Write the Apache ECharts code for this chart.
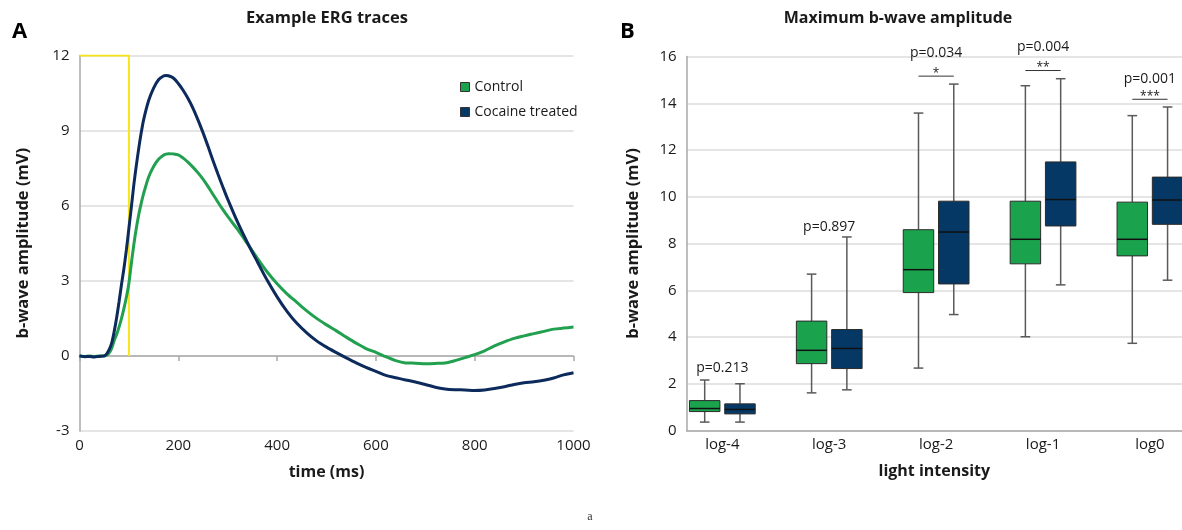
<!DOCTYPE html>
<html>
<head>
<meta charset="utf-8">
<script src="https://cdn.jsdelivr.net/npm/echarts@6/dist/echarts.min.js"></script>
<style>
html,body{margin:0;padding:0;background:#fff;}
#chart{width:1182px;height:530px;}
</style>
</head>
<body>
<div id="chart"></div>
<script>
// ---------- Panel A data ----------
const timeMs = [0,10,20,30,40,50,55,60,65,70,75,80,85,90,95,100,105,110,115,120,125,130,140,150,160,170,175,180,190,200,210,220,230,240,250,260,270,280,290,300,320,340,360,380,400,420,440,460,480,500,520,540,560,580,600,620,640,660,680,700,720,740,760,780,800,820,840,860,880,900,920,940,960,980,1000];
const controlTrace = [0,-0.02,0,-0.03,0,0,0.03,0.12,0.3,0.6,0.85,1.15,1.5,1.9,2.35,2.9,3.7,4.45,5.1,5.65,6.1,6.5,7.15,7.57,7.86,8.02,8.06,8.08,8.07,8.03,7.9,7.73,7.53,7.31,7.06,6.77,6.46,6.15,5.85,5.57,5.05,4.48,3.9,3.35,2.88,2.48,2.14,1.8,1.5,1.24,1.0,0.75,0.51,0.29,0.14,-0.03,-0.19,-0.28,-0.29,-0.31,-0.3,-0.28,-0.19,-0.07,0.05,0.2,0.4,0.56,0.7,0.8,0.89,0.98,1.07,1.11,1.15];
const cocaineTrace = [0,-0.03,-0.02,-0.04,-0.02,0,0.08,0.25,0.5,0.95,1.5,2.15,2.85,3.5,4.25,5.1,5.95,6.84,7.6,8.3,8.92,9.45,10.2,10.7,11.03,11.18,11.2,11.19,11.1,10.88,10.6,10.27,9.88,9.42,8.92,8.38,7.82,7.28,6.76,6.26,5.34,4.52,3.76,3.02,2.36,1.78,1.3,0.92,0.6,0.35,0.13,-0.08,-0.28,-0.46,-0.62,-0.78,-0.87,-0.96,-1.04,-1.14,-1.25,-1.32,-1.35,-1.36,-1.38,-1.36,-1.3,-1.23,-1.14,-1.07,-1.03,-0.97,-0.88,-0.76,-0.67];
const stimulusX = [0, 100, 100];
const stimulusY = [12, 12, 0];

// ---------- Panel B data ----------
const intensities = ['log-4','log-3','log-2','log-1','log0'];
// [min, Q1, median, Q3, max]
const controlBox = [
  [0.36, 0.81, 0.94, 1.28, 2.16],
  [1.61, 2.86, 3.43, 4.68, 6.69],
  [2.67, 5.90, 6.88, 8.59, 13.58],
  [4.01, 7.13, 8.18, 9.81, 14.75],
  [3.73, 7.47, 8.18, 9.77, 13.47]
];
const cocaineBox = [
  [0.36, 0.71, 0.90, 1.14, 2.00],
  [1.74, 2.65, 3.51, 4.32, 8.28],
  [4.96, 6.27, 8.49, 9.81, 14.82],
  [6.23, 8.75, 9.88, 11.49, 15.05],
  [6.43, 8.82, 9.86, 10.84, 13.84]
];
const pValues = ['p=0.213','p=0.897','p=0.034','p=0.004','p=0.001'];
const pLabelY = [2.66, 8.72, 16.15, 16.4, 15.05];
const sigStars = ['', '', '*', '**', '***'];
const bracketY = [null, null, 15.16, 15.4, 14.17];

// ---------- styling ----------
const FONT = '"Open Sans", "Noto Sans", sans-serif';
const GREEN_LINE = '#21a04f';
const NAVY_LINE = '#0c2b5c';
const GREEN_BOX = '#1ba24d';
const NAVY_BOX = '#053865';
const AXIS_GRAY = '#a9a9a9';
const GRID_GRAY = '#dddddd';
const TEXT = '#1a1a1a';

const BOX_OFF = 0.165, BOX_W = 0.285, CAP_W = 0.09;

function boxRenderer(offset, fill) {
  return function (params, api) {
    const x = api.value(0) + offset;
    const pMin = api.coord([x, api.value(1)]);
    const pQ1 = api.coord([x, api.value(2)]);
    const pMed = api.coord([x, api.value(3)]);
    const pQ3 = api.coord([x, api.value(4)]);
    const pMax = api.coord([x, api.value(5)]);
    const w = api.size([BOX_W, 0])[0];
    const cw = api.size([CAP_W, 0])[0];
    const cx = pMed[0];
    const wStyle = {stroke: '#5a5a5a', lineWidth: 1.5};
    return {
      type: 'group',
      children: [
        {type: 'line', shape: {x1: cx, y1: pMax[1], x2: cx, y2: pQ3[1]}, style: wStyle},
        {type: 'line', shape: {x1: cx, y1: pQ1[1], x2: cx, y2: pMin[1]}, style: wStyle},
        {type: 'line', shape: {x1: cx - cw / 2, y1: pMax[1], x2: cx + cw / 2, y2: pMax[1]}, style: wStyle},
        {type: 'line', shape: {x1: cx - cw / 2, y1: pMin[1], x2: cx + cw / 2, y2: pMin[1]}, style: wStyle},
        {type: 'rect', shape: {x: cx - w / 2, y: pQ3[1], width: w, height: pQ1[1] - pQ3[1]},
          style: {fill: fill, stroke: '#2b2b2b', lineWidth: 1}},
        {type: 'line', shape: {x1: cx - w / 2, y1: pMed[1], x2: cx + w / 2, y2: pMed[1]},
          style: {stroke: '#111', lineWidth: 1.5}}
      ]
    };
  };
}

const chart = echarts.init(document.getElementById('chart'), null, {renderer: 'canvas'});

const option = {
  animation: false,
  backgroundColor: '#ffffff',
  textStyle: {fontFamily: FONT},
  grid: [
    {left: 79.5, right: 608.5, top: 55.5, bottom: 99},
    {left: 686.7, right: 0, top: 56.5, bottom: 99.5}
  ],
  legend: {
    data: ['Control', 'Cocaine treated'],
    orient: 'vertical',
    left: 455, top: 74,
    icon: 'rect',
    itemWidth: 9, itemHeight: 9, itemGap: 9,
    itemStyle: {borderColor: '#333', borderWidth: 1},
    textStyle: {fontFamily: FONT, fontSize: 14, color: TEXT, lineHeight: 16}
  },
  xAxis: [
    {
      gridIndex: 0, type: 'value', min: 0, max: 1000, interval: 200,
      axisLine: {show: false, onZero: false}, axisTick: {show: false}, splitLine: {show: false},
      axisLabel: {fontFamily: FONT, fontSize: 15, color: TEXT, margin: 7, formatter: function (v) { return String(v); }},
      name: 'time (ms)', nameLocation: 'middle', nameGap: 33,
      nameTextStyle: {fontFamily: FONT, fontSize: 16, fontWeight: 'bold', color: TEXT}
    },
    {
      gridIndex: 0, type: 'value', min: 0, max: 1000, interval: 200, position: 'bottom',
      axisLine: {show: true, onZero: true, lineStyle: {color: AXIS_GRAY, width: 1.5}},
      axisTick: {show: true, length: 5, lineStyle: {color: AXIS_GRAY, width: 1.5}},
      axisLabel: {show: false}, splitLine: {show: false}
    },
    {
      gridIndex: 1, type: 'value', min: -1 / 3, max: 4.3,
      axisLine: {show: true, onZero: false, lineStyle: {color: AXIS_GRAY, width: 1.5}},
      axisTick: {show: false}, splitLine: {show: false},
      axisLabel: {
        customValues: [0, 1, 2, 3, 4],
        formatter: function (v) { return intensities[Math.round(v)]; },
        fontFamily: FONT, fontSize: 15, color: TEXT, margin: 7
      },
      name: 'light intensity', nameLocation: 'middle', nameGap: 33,
      nameTextStyle: {fontFamily: FONT, fontSize: 16, fontWeight: 'bold', color: TEXT}
    }
  ],
  yAxis: [
    {
      gridIndex: 0, type: 'value', min: -3, max: 12, interval: 3,
      axisLine: {show: true, onZero: false, lineStyle: {color: AXIS_GRAY, width: 1.5}},
      axisTick: {show: false},
      splitLine: {show: true, lineStyle: {color: GRID_GRAY, width: 1.5}},
      axisLabel: {fontFamily: FONT, fontSize: 15, color: TEXT, margin: 10},
      name: 'b-wave amplitude (mV)', nameLocation: 'middle', nameGap: 48,
      nameTextStyle: {fontFamily: FONT, fontSize: 16.5, fontWeight: 'bold', color: TEXT}
    },
    {
      gridIndex: 1, type: 'value', min: 0, max: 16, interval: 2,
      axisLine: {show: true, onZero: false, lineStyle: {color: AXIS_GRAY, width: 1.5}},
      axisTick: {show: false},
      splitLine: {show: true, lineStyle: {color: GRID_GRAY, width: 1.5}},
      axisLabel: {fontFamily: FONT, fontSize: 15, color: TEXT, margin: 10},
      name: 'b-wave amplitude (mV)', nameLocation: 'middle', nameGap: 45,
      nameTextStyle: {fontFamily: FONT, fontSize: 16.5, fontWeight: 'bold', color: TEXT}
    }
  ],
  series: [
    {
      name: 'Stimulus', type: 'line', xAxisIndex: 0, yAxisIndex: 0,
      data: stimulusX.map((t, i) => [t, stimulusY[i]]),
      showSymbol: false, lineStyle: {color: '#f6e51b', width: 2}, itemStyle: {color: '#f6e51b'},
      z: 1, silent: true
    },
    {
      name: 'Control', type: 'line', xAxisIndex: 0, yAxisIndex: 0,
      data: timeMs.map((t, i) => [t, controlTrace[i]]),
      showSymbol: false, smooth: 0.3,
      lineStyle: {color: GREEN_LINE, width: 3}, itemStyle: {color: GREEN_BOX}, z: 2
    },
    {
      name: 'Cocaine treated', type: 'line', xAxisIndex: 0, yAxisIndex: 0,
      data: timeMs.map((t, i) => [t, cocaineTrace[i]]),
      showSymbol: false, smooth: 0.3,
      lineStyle: {color: NAVY_LINE, width: 3}, itemStyle: {color: NAVY_BOX}, z: 3
    },
    {
      name: 'ControlBox', type: 'custom', xAxisIndex: 2, yAxisIndex: 1,
      data: controlBox.map((b, i) => [i].concat(b)),
      encode: {x: 0, y: [1, 2, 3, 4, 5]},
      renderItem: boxRenderer(-BOX_OFF, GREEN_BOX), clip: false, z: 3
    },
    {
      name: 'CocaineBox', type: 'custom', xAxisIndex: 2, yAxisIndex: 1,
      data: cocaineBox.map((b, i) => [i].concat(b)),
      encode: {x: 0, y: [1, 2, 3, 4, 5]},
      renderItem: boxRenderer(BOX_OFF, NAVY_BOX), clip: false, z: 3
    },
    {
      name: 'PLabels', type: 'custom', xAxisIndex: 2, yAxisIndex: 1,
      data: pValues.map((p, i) => [i, pLabelY[i]]),
      encode: {x: 0, y: 1},
      clip: false, z: 4,
      renderItem: function (params, api) {
        const p = api.coord([api.value(0), api.value(1)]);
        return {type: 'text', x: p[0], y: p[1],
          style: {text: pValues[params.dataIndex], fill: TEXT, font: '14px ' + FONT,
            textAlign: 'center', textVerticalAlign: 'middle'}};
      }
    },
    {
      name: 'Brackets', type: 'custom', xAxisIndex: 2, yAxisIndex: 1,
      data: intensities.map((c, i) => [i, bracketY[i] === null ? '-' : bracketY[i]]),
      encode: {x: 0, y: 1},
      clip: false, z: 4,
      renderItem: function (params, api) {
        const i = api.value(0);
        const yv = api.value(1);
        if (isNaN(yv)) return null;
        const a = api.coord([i - BOX_OFF, yv]);
        const b = api.coord([i + BOX_OFF, yv]);
        return {type: 'group', children: [
          {type: 'line', shape: {x1: a[0], y1: a[1], x2: b[0], y2: b[1]}, style: {stroke: '#333', lineWidth: 1}},
          {type: 'text', x: (a[0] + b[0]) / 2, y: a[1] + 3,
            style: {text: sigStars[params.dataIndex], fill: TEXT, font: '12px ' + FONT,
              textAlign: 'center', textVerticalAlign: 'bottom'}}
        ]};
      }
    }
  ],
  graphic: [
    {type: 'text', x: 12, y: 32, style: {text: 'A', font: 'bold 22px ' + FONT, fill: '#000', textVerticalAlign: 'middle'}},
    {type: 'text', x: 620, y: 32, style: {text: 'B', font: 'bold 22px ' + FONT, fill: '#000', textVerticalAlign: 'middle'}},
    {type: 'text', x: 327, y: 18, style: {text: 'Example ERG traces', font: 'bold 16.5px ' + FONT, fill: TEXT, textAlign: 'center', textVerticalAlign: 'middle'}},
    {type: 'text', x: 898, y: 18, style: {text: 'Maximum b-wave amplitude', font: 'bold 16px ' + FONT, fill: TEXT, textAlign: 'center', textVerticalAlign: 'middle'}},
    {type: 'text', x: 590, y: 517, style: {text: 'a', font: '12px "Liberation Serif", serif', fill: '#333', textAlign: 'center', textVerticalAlign: 'middle'}}
  ]
};
chart.setOption(option);
</script>
</body>
</html>
